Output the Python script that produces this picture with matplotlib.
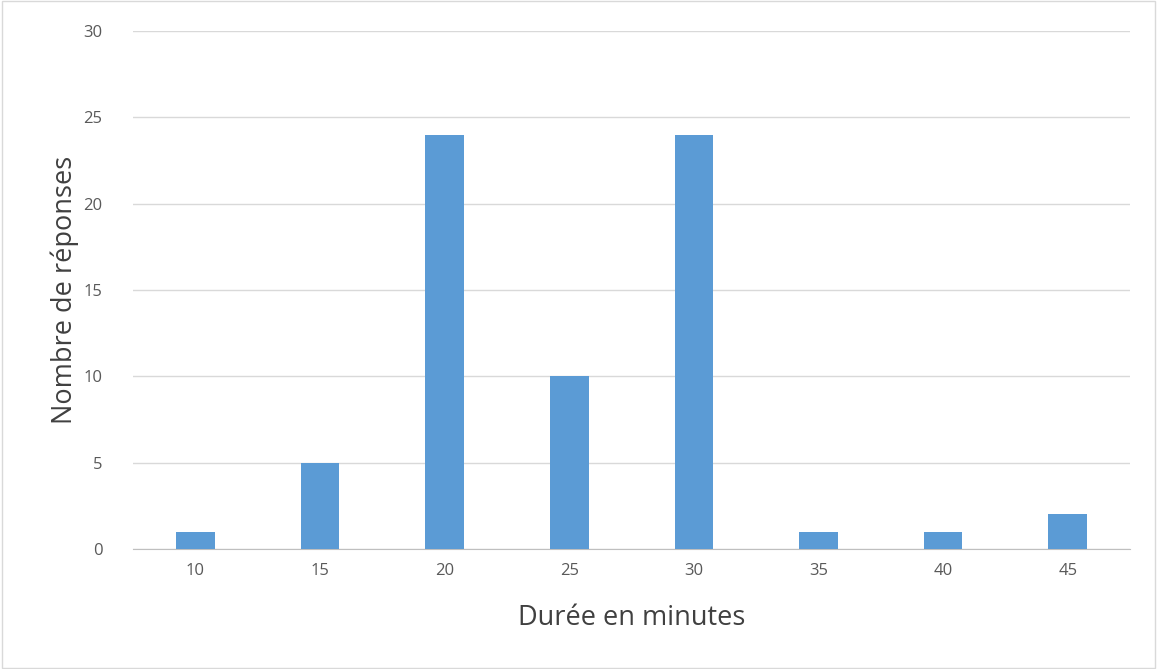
import matplotlib.pyplot as plt
from matplotlib.patches import Rectangle

durees = ["10", "15", "20", "25", "30", "35", "40", "45"]
reponses = [1, 5, 24, 10, 24, 1, 1, 2]

plt.rcParams['font.family'] = ['Open Sans', 'DejaVu Sans']

fig = plt.figure(figsize=(11.57, 6.69), dpi=100)
ax = fig.add_axes([0.115, 0.1794, 0.8617, 0.7743])

x = range(len(durees))
ax.bar(x, reponses, width=0.31, color="#5B9BD5", zorder=3)

ax.set_xlim(-0.5, len(durees) - 0.5)
ax.set_ylim(0, 30)
ax.set_yticks(range(0, 31, 5))
ax.set_xticks(list(x))
ax.set_xticklabels(durees)
ax.grid(axis="y", color="#D9D9D9", linewidth=1, zorder=0)

for s in ["top", "right", "left"]:
    ax.spines[s].set_visible(False)
ax.spines["bottom"].set_color("#BFBFBF")
ax.tick_params(axis="both", length=0, labelsize=12, colors="#595959", pad=10)
ax.tick_params(axis="y", pad=22)

ax.set_xlabel("Durée en minutes", fontsize=19.5, color="#404040", labelpad=18)
ax.set_ylabel("Nombre de réponses", fontsize=19.5, color="#404040", labelpad=3)

fig.patches.append(Rectangle((0.002, 0.002), 0.996, 0.996, transform=fig.transFigure,
                             fill=False, edgecolor="#D9D9D9", linewidth=1))

plt.savefig("out.png", dpi=100)
